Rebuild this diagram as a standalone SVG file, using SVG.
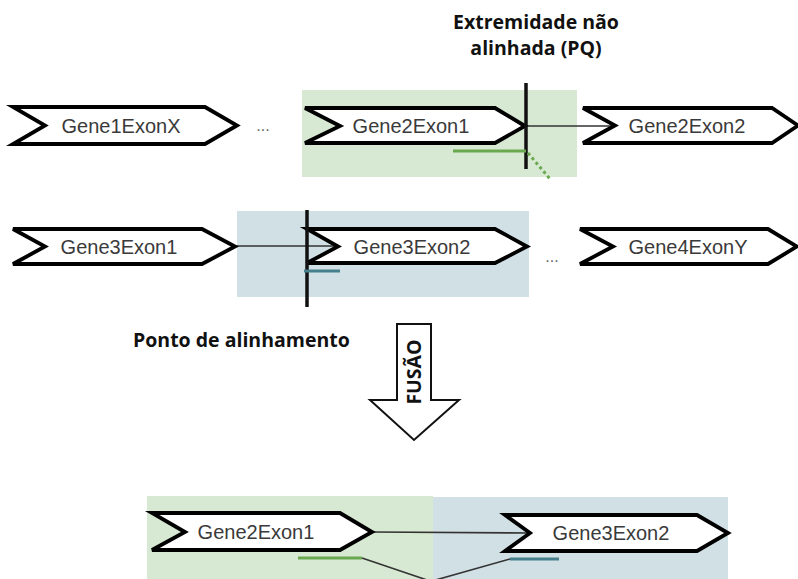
<svg xmlns="http://www.w3.org/2000/svg" width="798" height="579" viewBox="0 0 798 579">
  <style>
    .exon { fill: #ffffff; stroke: #000000; stroke-width: 3.8; stroke-linejoin: miter; }
    .exon-label { font-family: "Liberation Sans", Arial, sans-serif; font-size: 20px; fill: #3a3a3a; text-anchor: middle; }
    .caption { font-family: "Open Sans", "Noto Sans", sans-serif; font-weight: bold; font-size: 19.5px; fill: #111111; }
    .link { stroke: #333333; stroke-width: 1.6; fill: none; }
    .cut { stroke: #111111; stroke-width: 3.5; }
    .ellipsis { font-family: "Liberation Sans", Arial, sans-serif; font-size: 16px; fill: #666666; text-anchor: middle; }
    .green-zone { fill: #d7e9d2; }
    .blue-zone { fill: #d1e0e4; }
    .green-mark { stroke: #6aa84f; stroke-width: 3; }
    .blue-mark { stroke: #46808c; stroke-width: 3; }
  </style>

  <!-- highlighted alignment regions -->
  <rect class="green-zone" x="302" y="90" width="275" height="87"/>
  <rect class="blue-zone" x="237" y="211" width="292" height="86"/>
  <rect class="green-zone" x="147" y="496" width="286" height="90"/>
  <rect class="blue-zone" x="433" y="497" width="295" height="90"/>

  <!-- connectors between exons -->
  <g id="connectors">
    <line class="link" x1="525" y1="126" x2="615" y2="126"/>
    <line class="link" x1="235" y1="246" x2="338" y2="246"/>
    <line class="link" x1="372" y1="532" x2="530" y2="533"/>
    <line class="link" x1="362" y1="558" x2="430" y2="581"/>
    <line class="link" x1="510" y1="559" x2="432" y2="581"/>
  </g>

  <!-- top row -->
  <g id="gene1-exonx">
    <path class="exon" d="M13,107 L205,107 L237,125.5 L205,144 L13,144 L45,125.5 Z"/>
    <text class="exon-label" x="121" y="133">Gene1ExonX</text>
  </g>
  <text class="ellipsis" x="263" y="131">...</text>

  <g id="gene2-exon1">
    <path class="exon" d="M305,108 L495,108 L525,126 L495,143 L305,143 L340,126 Z"/>
    <text class="exon-label" x="411" y="133">Gene2Exon1</text>
  </g>

  <g id="gene2-exon2">
    <path class="exon" d="M583,108 L772,108 L798,125.5 L772,143 L583,143 L615,125.5 Z"/>
    <text class="exon-label" x="687" y="133">Gene2Exon2</text>
  </g>

  <!-- unaligned end marker -->
  <g id="unaligned-end">
    <line class="cut" x1="526" y1="83" x2="526" y2="169"/>
    <line class="green-mark" x1="453" y1="151" x2="526" y2="151"/>
    <line class="green-mark" x1="528" y1="153" x2="550" y2="179" stroke-dasharray="3 3"/>
  </g>

  <!-- second row -->
  <g id="gene3-exon1">
    <path class="exon" d="M13,229 L202,229 L235,246.5 L202,264 L13,264 L45,246.5 Z"/>
    <text class="exon-label" x="119" y="254">Gene3Exon1</text>
  </g>

  <g id="gene3-exon2">
    <path class="exon" d="M307,229 L495,229 L527,246.5 L495,263 L307,263 L338,246.5 Z"/>
    <text class="exon-label" x="412" y="254">Gene3Exon2</text>
  </g>
  <text class="ellipsis" x="552" y="262">...</text>

  <g id="gene4-exony">
    <path class="exon" d="M580,229 L768,229 L797,246.5 L768,264 L580,264 L613,246.5 Z"/>
    <text class="exon-label" x="688" y="254">Gene4ExonY</text>
  </g>

  <!-- alignment point marker -->
  <g id="alignment-point">
    <line class="cut" x1="307" y1="210" x2="307" y2="307"/>
    <line class="blue-mark" x1="304" y1="271" x2="340" y2="271"/>
  </g>

  <!-- captions -->
  <text class="caption" x="536" y="29" font-size="19" text-anchor="middle">Extremidade não</text>
  <text class="caption" x="536" y="55" font-size="19" text-anchor="middle">alinhada (PQ)</text>
  <text class="caption" x="133" y="347">Ponto de alinhamento</text>

  <!-- fusion arrow -->
  <g id="fusion-arrow">
    <path d="M397,324 L431,324 L431,400 L459,400 L414,440 L370,400 L397,400 Z" fill="#ffffff" stroke="#111111" stroke-width="2"/>
    <text class="caption" x="0" y="0" font-size="16.5" text-anchor="middle" transform="translate(421,372) rotate(-90)">FUSÃO</text>
  </g>

  <!-- fused transcript -->
  <g id="fused-gene2-exon1">
    <path class="exon" d="M152,513 L340,513 L372,532 L340,550 L152,550 L185,532 Z"/>
    <text class="exon-label" x="256" y="539">Gene2Exon1</text>
  </g>
  <g id="fused-gene3-exon2">
    <path class="exon" d="M505,515 L697,515 L728,533 L697,551 L505,551 L530,533 Z"/>
    <text class="exon-label" x="611" y="540">Gene3Exon2</text>
  </g>
  <line class="green-mark" x1="298" y1="558" x2="362" y2="558"/>
  <line class="blue-mark" x1="510" y1="559" x2="559" y2="559"/>
</svg>
